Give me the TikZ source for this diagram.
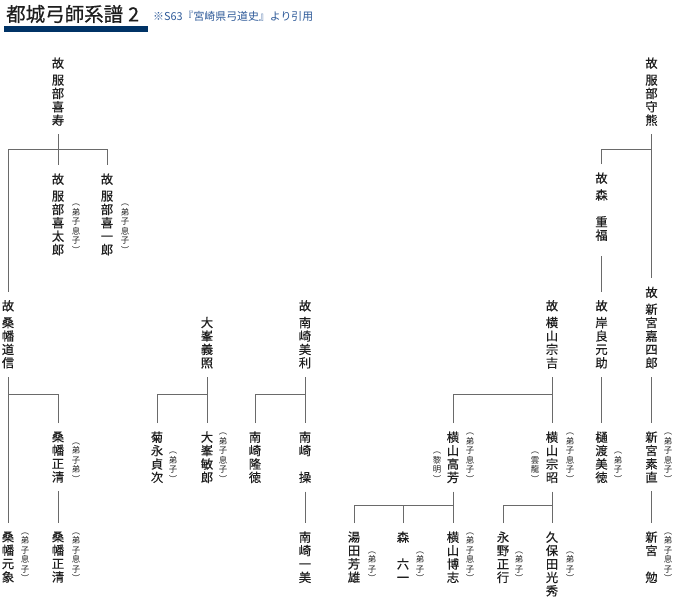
\documentclass[tikz,border=0pt]{standalone}
\usepackage{fontspec}
\newfontfamily\cjk[FakeBold=0.4]{Noto Sans CJK JP}
\newfontfamily\cjkt[FakeBold=0.6]{Noto Sans CJK JP}
\newfontfamily\cjks{Noto Sans CJK JP}
\definecolor{ink}{HTML}{1E1E1E}
\definecolor{navy}{HTML}{003366}
\definecolor{subblue}{HTML}{2E5A99}
\definecolor{linegray}{HTML}{6A6A6A}
\newcommand\kox{故\\[3.4pt]}
\begin{document}
\begin{tikzpicture}[x=1pt,y=-1pt,
  nm/.style={font=\cjk\fontsize{12.3}{13.4}\selectfont, text=ink, align=center, inner sep=0pt, outer xsep=0pt, outer ysep=8.5pt},
  an/.style={font=\cjks\fontsize{8.4}{9.5}\selectfont, text=ink, align=center, inner sep=0pt, anchor=south},
  ln/.style={draw=linegray, line width=1pt}]
\fill[white] (0,0) rectangle (680,600);
\useasboundingbox (0,0) rectangle (680,600);
% title
\node[anchor=west, inner sep=0pt, font=\cjkt\fontsize{19.5}{19.5}\selectfont, text=ink] (title) at (6,14) {都城弓師系譜\hspace{5pt}2};
\fill[navy] (4,26) rectangle (148,32);
\node[anchor=west, inner sep=0pt, font=\cjks\fontsize{10.9}{10.9}\selectfont, text=subblue] (sub) at (153,16) {※S63『宮崎県弓道史』より引用};
% row coordinates
\coordinate (h1) at (0,149.5);
\coordinate (h3) at (0,394.5);
\coordinate (h5) at (0,505);
\coordinate (b2) at (0,253.5);
\coordinate (b4) at (0,482.5);
\coordinate (b5) at (0,582);
% row 1
\node[nm, anchor=north] (hHisa) at (58,49) {\kox 服\\部\\喜\\寿};
\node[nm, anchor=north] (hMori) at (651.5,49) {\kox 服\\部\\守\\熊};
% row 2
\node[nm, anchor=north] (hKitaro) at (58,165) {\kox 服\\部\\喜\\太\\郎};
\node[nm, anchor=north] (hKiichiro) at (107,165) {\kox 服\\部\\喜\\一\\郎};
\node[nm, anchor=north] (moriS) at (601.5,164) {\kox 森\\\mbox{}\\重\\福};
\node[an] (aKitaro) at ([xshift=18pt]hKitaro.north |- b2) {︵\\弟\\子\\息\\子\\︶};
\node[an] (aKiichiro) at ([xshift=18pt]hKiichiro.north |- b2) {︵\\弟\\子\\息\\子\\︶};
% row 3
\node[nm, anchor=south] (kMichi) at (8,377) {\kox 桑\\幡\\道\\信};
\node[nm, anchor=south] (oYoshi) at (207,377) {大\\峯\\義\\照};
\node[nm, anchor=south] (nMitoshi) at (305,377) {\kox 南\\崎\\美\\利};
\node[nm, anchor=south] (yMune) at (552,377) {\kox 横\\山\\宗\\吉};
\node[nm, anchor=south] (kiMoto) at (601.5,377) {\kox 岸\\良\\元\\助};
\node[nm, anchor=south] (sKashiro) at (651.5,377) {\kox 新\\宮\\嘉\\四\\郎};
% row 4
\node[nm, anchor=north] (kMasa) at (58,423) {桑\\幡\\正\\清};
\node[nm, anchor=north] (kiku) at (157,423) {菊\\永\\貞\\次};
\node[nm, anchor=north] (oToshi) at (207,423) {大\\峯\\敏\\郎};
\node[nm, anchor=north] (nTaka) at (255,423) {南\\崎\\隆\\徳};
\node[nm, anchor=north] (nMisao) at (305,423) {南\\崎\\\mbox{}\\操};
\node[nm, anchor=north] (yTaka) at (453,423) {横\\山\\高\\芳};
\node[nm, anchor=north] (yAki) at (552,423) {横\\山\\宗\\昭};
\node[nm, anchor=north] (hiwa) at (601.5,423) {樋\\渡\\美\\徳};
\node[nm, anchor=north] (sMotonao) at (651.5,423) {新\\宮\\素\\直};
\node[an] (aMasa) at ([xshift=18pt]kMasa.north |- b4) {︵\\弟\\子\\弟\\︶};
\node[an] (aKiku) at ([xshift=16pt]kiku.north |- b4) {︵\\弟\\子\\︶};
\node[an] (aToshi) at ([xshift=16pt]oToshi.north |- b4) {︵\\弟\\子\\息\\子\\︶};
\node[an] (aTaka) at ([xshift=17pt]yTaka.north |- b4) {︵\\弟\\子\\息\\子\\︶};
\node[an] (aReimei) at ([xshift=-16pt]yTaka.north |- b4) {︵\\黎\\明\\︶};
\node[an] (aAki) at ([xshift=18pt]yAki.north |- b4) {︵\\弟\\子\\息\\子\\︶};
\node[an] (aUnryu) at ([xshift=-17pt]yAki.north |- b4) {︵\\雲\\龍\\︶};
\node[an] (aHiwa) at ([xshift=16.5pt]hiwa.north |- b4) {︵\\弟\\子\\︶};
\node[an] (aMotonao) at ([xshift=16.5pt]sMotonao.north |- b4) {︵\\弟\\子\\息\\子\\︶};
% row 5
\node[nm, anchor=north] (kGen) at (8,523) {桑\\幡\\元\\象};
\node[nm, anchor=north] (kMasa2) at (58,523) {桑\\幡\\正\\清};
\node[nm, anchor=north] (nKazumi) at (305,523) {南\\崎\\一\\美};
\node[nm, anchor=north] (yuda) at (354,523) {湯\\田\\芳\\雄};
\node[nm, anchor=north] (mori6) at (403,523) {森\\\mbox{}\\六\\一};
\node[nm, anchor=north] (yHiro) at (453,523) {横\\山\\博\\志};
\node[nm, anchor=north] (nagano) at (503,523) {永\\野\\正\\行};
\node[nm, anchor=north] (kubota) at (552,523) {久\\保\\田\\光\\秀};
\node[nm, anchor=north] (sTsutomu) at (651.5,523) {新\\宮\\\mbox{}\\勉};
\node[an] (aGen) at ([xshift=17pt]kGen.north |- b5) {︵\\弟\\子\\息\\子\\︶};
\node[an] (aMasa2) at ([xshift=18pt]kMasa2.north |- b5) {︵\\弟\\子\\息\\子\\︶};
\node[an] (aYuda) at ([xshift=18pt]yuda.north |- b5) {︵\\弟\\子\\︶};
\node[an] (aMori6) at ([xshift=17pt]mori6.north |- b5) {︵\\弟\\子\\︶};
\node[an] (aHiro) at ([xshift=17pt]yHiro.north |- b5) {︵\\弟\\子\\息\\子\\︶};
\node[an] (aNagano) at ([xshift=16pt]nagano.north |- b5) {︵\\弟\\子\\︶};
\node[an] (aKubota) at ([xshift=18pt]kubota.north |- b5) {︵\\弟\\子\\︶};
\node[an] (aTsutomu) at ([xshift=16.5pt]sTsutomu.north |- b5) {︵\\弟\\子\\息\\子\\︶};
% connectors
\draw[ln] (hHisa.south) -- (hKitaro.north);
\draw[ln] (kMichi.north) |- (h1 -| hKiichiro.north) -- (hKiichiro.north);
\draw[ln] (hMori.south) -- (sKashiro.north);
\draw[ln] (moriS.north) |- (h1 -| hMori.south);
\draw[ln, shorten <=7pt] (moriS.south) -- (kiMoto.north);
\draw[ln] (kMichi.south) -- (kGen.north);
\draw[ln] (kMasa.north) |- (h3 -| kMichi.south);
\draw[ln] (kMasa.south) -- (kMasa2.north);
\draw[ln] (oYoshi.south) -- (oToshi.north);
\draw[ln] (kiku.north) |- (h3 -| oYoshi.south);
\draw[ln] (nMitoshi.south) -- (nMisao.north);
\draw[ln] (nTaka.north) |- (h3 -| nMitoshi.south);
\draw[ln] (nMisao.south) -- (nKazumi.north);
\draw[ln] (yMune.south) -- (yAki.north);
\draw[ln] (yTaka.north) |- (h3 -| yMune.south);
\draw[ln] (yTaka.south) -- (yHiro.north);
\draw[ln] (yuda.north) |- (h5 -| yTaka.south);
\draw[ln] (mori6.north) -- (mori6.north |- h5);
\draw[ln] (yAki.south) -- (kubota.north);
\draw[ln] (nagano.north) |- (h5 -| yAki.south);
\draw[ln] (kiMoto.south) -- (hiwa.north);
\draw[ln] (sKashiro.south) -- (sMotonao.north);
\draw[ln] (sMotonao.south) -- (sTsutomu.north);
\end{tikzpicture}
\end{document}
